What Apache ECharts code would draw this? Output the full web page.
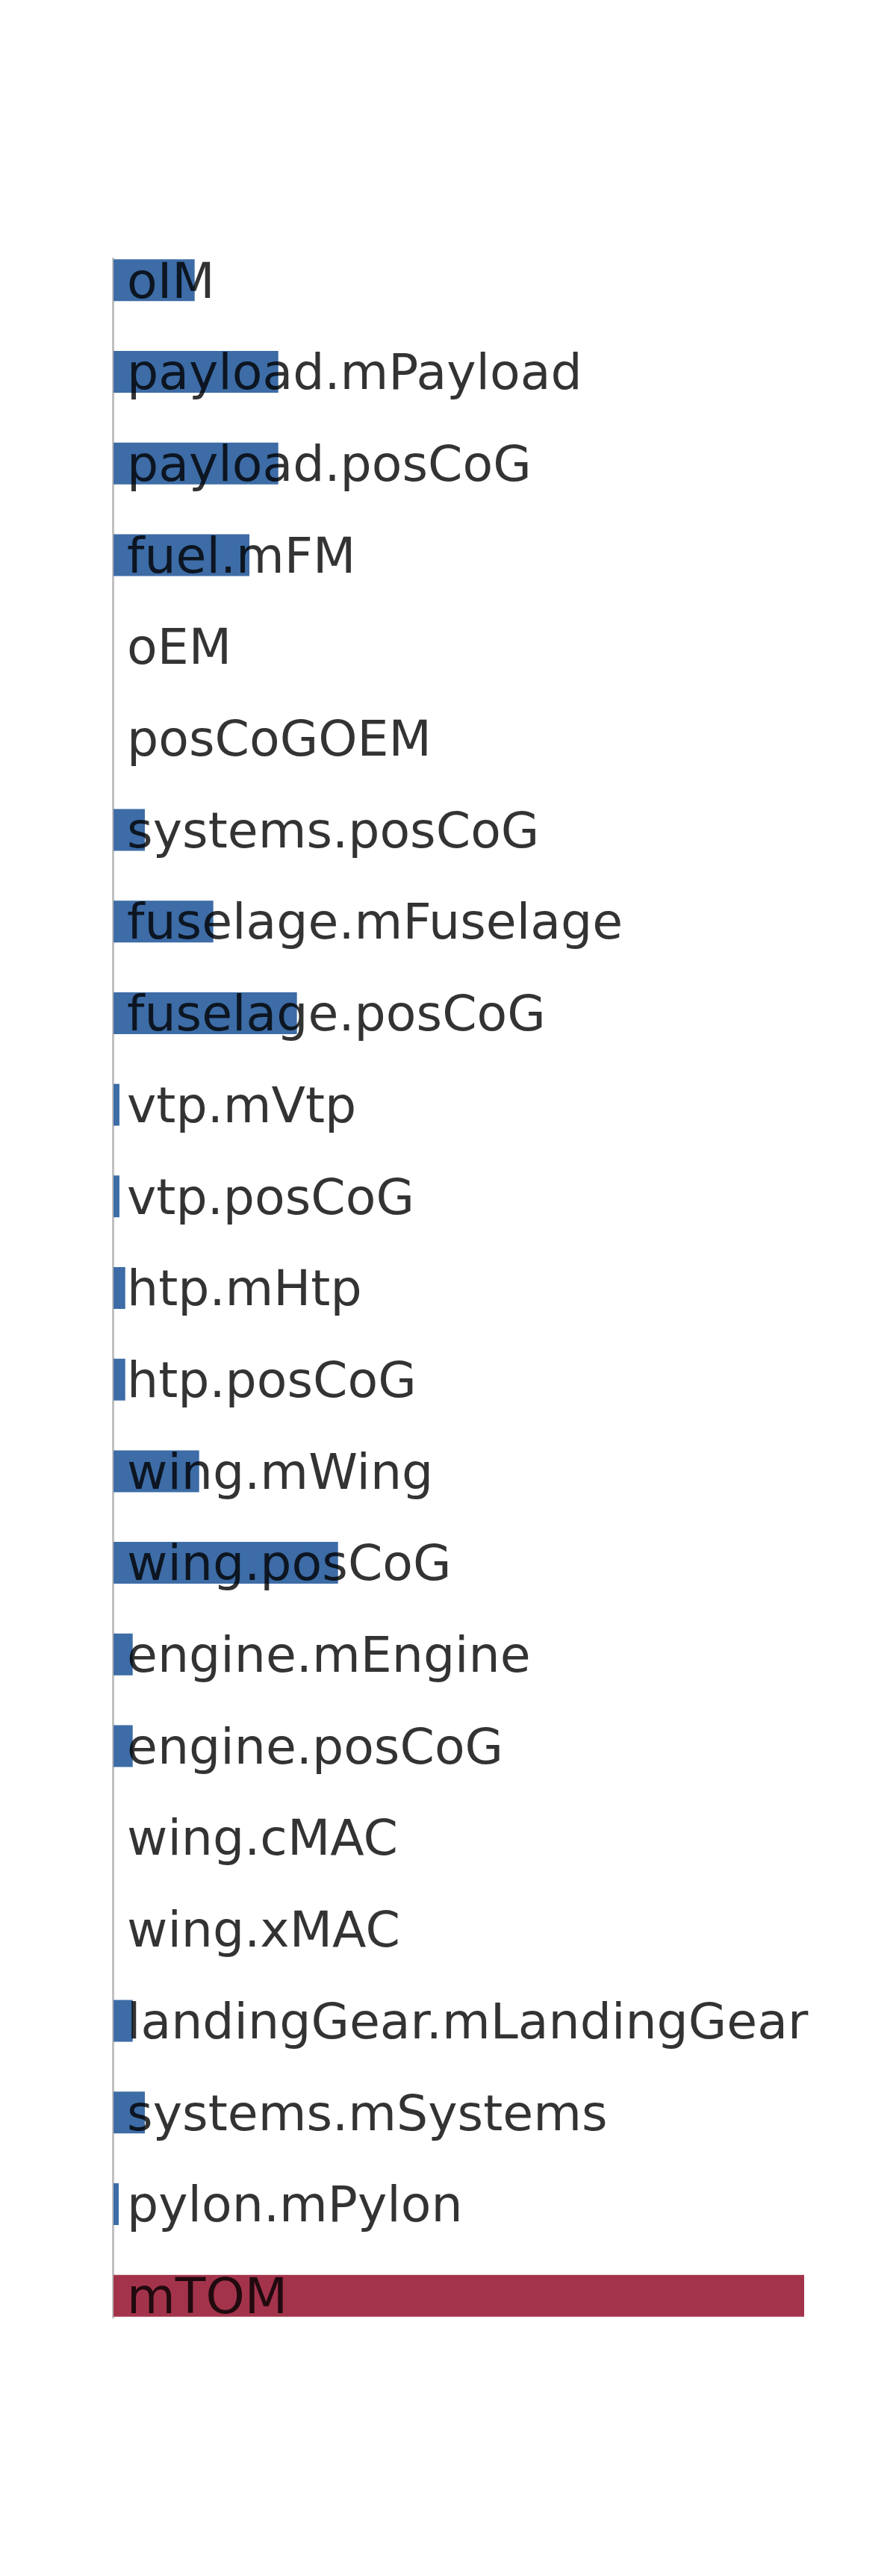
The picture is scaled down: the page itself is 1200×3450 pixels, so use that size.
<!DOCTYPE html>
<html>
<head>
<meta charset="utf-8">
<script src="https://cdn.jsdelivr.net/npm/echarts@6/dist/echarts.min.js"></script>
<style>
  html, body { margin: 0; padding: 0; background: #ffffff; }
  #chart { width: 1200px; height: 3450px; }
</style>
</head>
<body>
<div id="chart"></div>
<script>
// Categories (top to bottom)
const categories = [
  "oIM", "payload.mPayload", "payload.posCoG", "fuel.mFM", "oEM", "posCoGOEM",
  "systems.posCoG", "fuselage.mFuselage", "fuselage.posCoG", "vtp.mVtp", "vtp.posCoG",
  "htp.mHtp", "htp.posCoG", "wing.mWing", "wing.posCoG", "engine.mEngine",
  "engine.posCoG", "wing.cMAC", "wing.xMAC", "landingGear.mLandingGear",
  "systems.mSystems", "pylon.mPylon", "mTOM"
];
// Relative bar lengths (mTOM = 100)
const values = [
  11.75, 23.86, 23.86, 19.68, 0, 0,
  4.54, 14.45, 26.56, 0.86, 0.86,
  1.70, 1.70, 12.40, 32.51, 2.78,
  2.78, 0, 0, 2.78,
  4.54, 0.76, 100
];
const totalName = "mTOM";

const BLUE = "#3d6ca6";
const RED = "#a3334b";

const chart = echarts.init(document.getElementById('chart'), null, { renderer: 'canvas' });

const option = {
  backgroundColor: '#ffffff',
  animation: false,
  grid: { left: 152, right: 123, top: 314, bottom: 314, containLabel: false },
  xAxis: {
    type: 'value', min: 0, max: 100,
    show: false
  },
  yAxis: {
    type: 'category', data: categories, inverse: true, boundaryGap: true,
    axisLine: { show: false }, axisTick: { show: false }, axisLabel: { show: false },
    splitLine: { show: false }
  },
  series: [{
    type: 'bar',
    data: values,
    barWidth: 56,
    itemStyle: {
      color: function (p) { return p.name === totalName ? RED : BLUE; }
    },
    label: {
      show: true,
      position: 'insideLeft',
      distance: 18,
      formatter: '{b}',
      color: 'rgba(0,0,0,0.8)',
      fontFamily: 'DejaVu Sans',
      fontSize: 66.5,
      offset: [0, 6]
    },
    z: 3
  }]
};
chart.setOption(option);

// Vertical baseline spanning from the first bar's top to the last bar's bottom
const x0 = chart.convertToPixel({ xAxisIndex: 0 }, 0);
const yFirst = chart.convertToPixel({ yAxisIndex: 0 }, categories[0]);
const yLast = chart.convertToPixel({ yAxisIndex: 0 }, categories[categories.length - 1]);
chart.setOption({
  graphic: [{
    type: 'line',
    z: 1,
    shape: { x1: x0 - 0.5, y1: yFirst - 30, x2: x0 - 0.5, y2: yLast + 30 },
    style: { stroke: '#c0c0c0', lineWidth: 3 }
  }]
});
</script>
</body>
</html>
